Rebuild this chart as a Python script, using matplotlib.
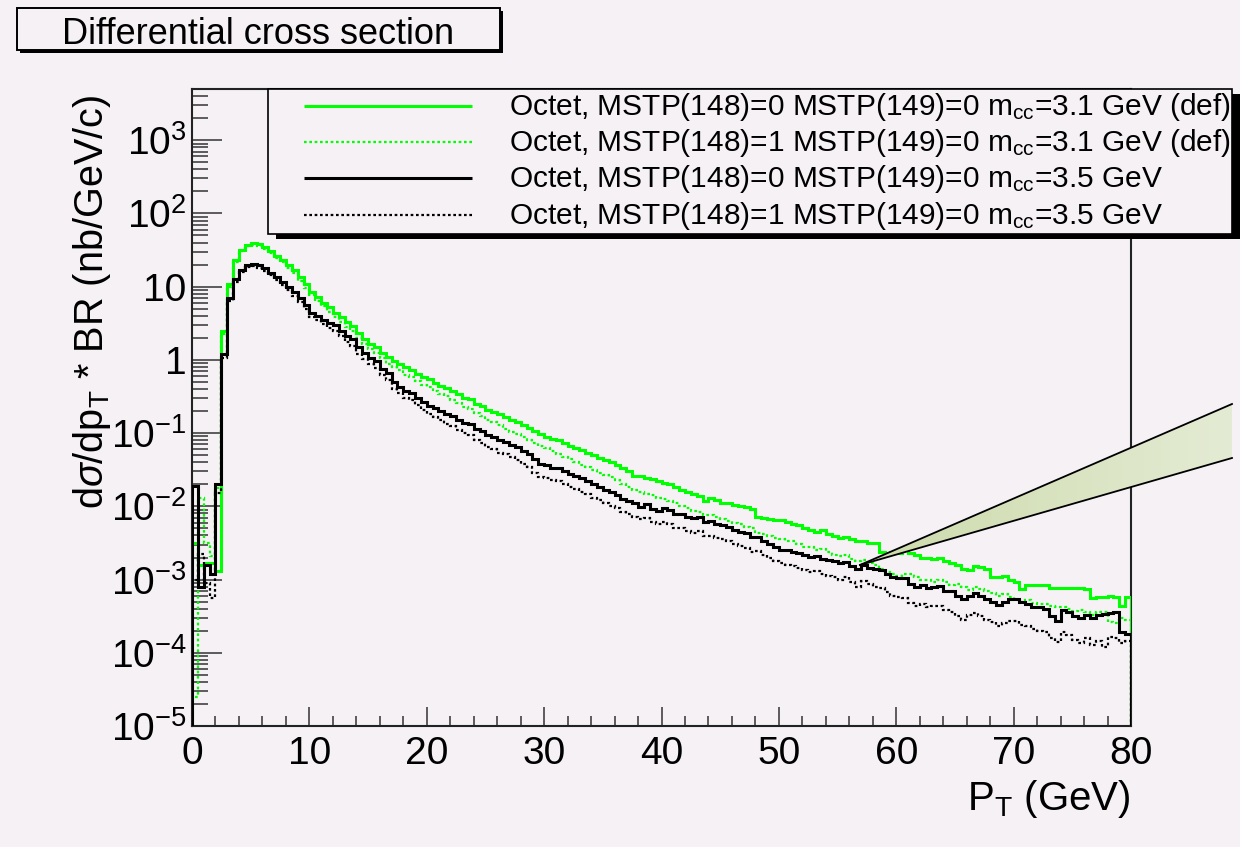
import numpy as np
import matplotlib
matplotlib.use("Agg")
import matplotlib.pyplot as plt
from matplotlib.patches import Rectangle, Polygon
from matplotlib.ticker import FixedLocator, FixedFormatter, LogLocator, MultipleLocator, NullFormatter

plt.rcParams['font.family'] = ['Liberation Sans', 'DejaVu Sans']
plt.rcParams['mathtext.fontset'] = 'custom'
plt.rcParams['mathtext.rm'] = 'Liberation Sans'
plt.rcParams['mathtext.it'] = 'Liberation Sans:italic'
plt.rcParams['mathtext.bf'] = 'Liberation Sans:bold'

# ---------------------------------------------------------------------------
# Histogram contents: log10(dsigma/dpT * BR) in nb/GeV/c, 0.5 GeV bins, 0-80 GeV
# ---------------------------------------------------------------------------
PT_MIN, PT_MAX = 0.0, 80.0

log_m31_148_0 = [
    -2.50, -2.80, -2.78, -2.78, -2.88, 0.40, 1.04, 1.37, 1.50, 1.57,
    1.59, 1.58, 1.54, 1.49, 1.42, 1.37, 1.30, 1.23, 1.13, 1.03,
    0.93, 0.86, 0.78, 0.72, 0.64, 0.58, 0.52, 0.46, 0.37, 0.28,
    0.22, 0.17, 0.10, 0.04, -0.02, -0.06, -0.10, -0.14, -0.19, -0.23,
    -0.26, -0.31, -0.36, -0.39, -0.43, -0.47, -0.52, -0.54, -0.60, -0.63,
    -0.68, -0.71, -0.74, -0.78, -0.82, -0.85, -0.89, -0.93, -0.97, -1.01,
    -1.05, -1.08, -1.10, -1.14, -1.18, -1.21, -1.23, -1.27, -1.30, -1.34,
    -1.37, -1.40, -1.44, -1.48, -1.52, -1.59, -1.59, -1.62, -1.63, -1.66,
    -1.68, -1.70, -1.74, -1.78, -1.80, -1.83, -1.86, -1.93, -1.88, -1.91,
    -1.96, -1.96, -1.98, -2.00, -2.01, -2.03, -2.15, -2.16, -2.18, -2.19,
    -2.19, -2.22, -2.24, -2.26, -2.30, -2.33, -2.35, -2.33, -2.38, -2.40,
    -2.43, -2.42, -2.44, -2.48, -2.47, -2.50, -2.50, -2.63, -2.64, -2.62,
    -2.64, -2.60, -2.64, -2.66, -2.70, -2.71, -2.72, -2.70, -2.75, -2.78,
    -2.80, -2.85, -2.87, -2.82, -2.83, -2.86, -2.97, -2.97, -2.95, -3.00,
    -3.03, -3.13, -3.08, -3.07, -3.08, -3.08, -3.11, -3.11, -3.12, -3.12,
    -3.12, -3.12, -3.13, -3.25, -3.24, -3.24, -3.23, -3.24, -3.36, -3.24,
]

log_m31_148_1 = [
    -4.60, -1.88, -2.50, -2.68, -1.75, 0.36, 1.00, 1.34, 1.48, 1.55,
    1.57, 1.56, 1.51, 1.46, 1.39, 1.33, 1.26, 1.18, 1.08, 0.98,
    0.88, 0.80, 0.73, 0.66, 0.58, 0.52, 0.45, 0.39, 0.30, 0.21,
    0.15, 0.09, 0.02, -0.05, -0.10, -0.14, -0.20, -0.24, -0.29, -0.34,
    -0.37, -0.42, -0.47, -0.50, -0.55, -0.59, -0.65, -0.67, -0.73, -0.77,
    -0.82, -0.85, -0.89, -0.94, -0.98, -1.01, -1.06, -1.10, -1.14, -1.18,
    -1.21, -1.25, -1.28, -1.33, -1.36, -1.40, -1.43, -1.46, -1.50, -1.54,
    -1.57, -1.60, -1.64, -1.70, -1.73, -1.78, -1.80, -1.83, -1.85, -1.88,
    -1.90, -1.93, -1.96, -2.00, -2.02, -2.06, -2.08, -2.12, -2.12, -2.15,
    -2.18, -2.20, -2.23, -2.24, -2.28, -2.30, -2.36, -2.38, -2.40, -2.43,
    -2.44, -2.47, -2.48, -2.52, -2.55, -2.56, -2.60, -2.58, -2.63, -2.66,
    -2.68, -2.67, -2.72, -2.74, -2.73, -2.77, -2.80, -2.86, -2.90, -2.93,
    -2.95, -2.93, -2.92, -2.97, -3.00, -3.01, -3.03, -3.00, -3.04, -3.07,
    -3.06, -3.10, -3.14, -3.10, -3.13, -3.16, -3.18, -3.22, -3.20, -3.24,
    -3.28, -3.30, -3.28, -3.32, -3.34, -3.33, -3.36, -3.38, -3.37, -3.40,
    -3.43, -3.42, -3.45, -3.48, -3.44, -3.45, -3.58, -3.60, -3.52, -3.55,
]

log_m35_148_0 = [
    -1.72, -3.10, -2.80, -2.92, -1.70, 0.08, 0.85, 1.11, 1.23, 1.30,
    1.31, 1.29, 1.25, 1.19, 1.13, 1.06, 0.99, 0.92, 0.84, 0.75,
    0.64, 0.60, 0.55, 0.50, 0.47, 0.40, 0.33, 0.28, 0.17, 0.10,
    0.03, -0.02, -0.12, -0.18, -0.30, -0.37, -0.43, -0.45, -0.52, -0.57,
    -0.63, -0.66, -0.70, -0.74, -0.77, -0.82, -0.86, -0.88, -0.94, -0.97,
    -1.03, -1.06, -1.10, -1.12, -1.16, -1.19, -1.24, -1.28, -1.36, -1.42,
    -1.44, -1.47, -1.48, -1.52, -1.56, -1.59, -1.62, -1.65, -1.70, -1.73,
    -1.78, -1.81, -1.84, -1.90, -1.93, -1.95, -2.01, -1.97, -2.03, -2.06,
    -2.02, -2.05, -2.10, -2.10, -2.15, -2.16, -2.15, -2.21, -2.20, -2.24,
    -2.26, -2.28, -2.32, -2.35, -2.37, -2.42, -2.42, -2.48, -2.52, -2.55,
    -2.60, -2.60, -2.63, -2.64, -2.67, -2.69, -2.68, -2.72, -2.73, -2.74,
    -2.78, -2.76, -2.81, -2.86, -2.80, -2.84, -2.86, -2.87, -2.92, -2.96,
    -2.98, -2.98, -3.06, -3.10, -3.08, -3.12, -3.10, -3.09, -3.15, -3.16,
    -3.23, -3.27, -3.22, -3.18, -3.22, -3.26, -3.30, -3.35, -3.30, -3.26,
    -3.26, -3.31, -3.33, -3.37, -3.38, -3.40, -3.50, -3.56, -3.42, -3.45,
    -3.50, -3.52, -3.48, -3.53, -3.49, -3.47, -3.46, -3.45, -3.72, -3.74,
]

log_m35_148_1 = [
    -3.00, -2.65, -3.05, -3.25, -1.82, 0.02, 0.80, 1.07, 1.20, 1.27,
    1.28, 1.26, 1.22, 1.16, 1.09, 1.02, 0.95, 0.87, 0.79, 0.70,
    0.59, 0.54, 0.49, 0.43, 0.39, 0.32, 0.25, 0.19, 0.08, 0.01,
    -0.06, -0.11, -0.21, -0.28, -0.40, -0.45, -0.52, -0.55, -0.62, -0.68,
    -0.74, -0.78, -0.82, -0.87, -0.90, -0.96, -1.00, -1.03, -1.09, -1.13,
    -1.19, -1.22, -1.27, -1.29, -1.33, -1.37, -1.42, -1.46, -1.54, -1.60,
    -1.62, -1.64, -1.66, -1.70, -1.74, -1.77, -1.80, -1.83, -1.88, -1.91,
    -1.96, -1.99, -2.02, -2.08, -2.11, -2.14, -2.18, -2.16, -2.22, -2.24,
    -2.21, -2.24, -2.29, -2.29, -2.34, -2.36, -2.34, -2.40, -2.40, -2.43,
    -2.45, -2.48, -2.52, -2.54, -2.57, -2.62, -2.61, -2.67, -2.71, -2.74,
    -2.78, -2.80, -2.81, -2.84, -2.87, -2.90, -2.88, -2.93, -2.95, -2.96,
    -3.00, -2.97, -3.03, -3.10, -3.02, -3.06, -3.10, -3.11, -3.17, -3.22,
    -3.24, -3.25, -3.32, -3.36, -3.33, -3.38, -3.36, -3.36, -3.42, -3.44,
    -3.50, -3.55, -3.48, -3.46, -3.50, -3.55, -3.58, -3.64, -3.60, -3.56,
    -3.56, -3.62, -3.64, -3.68, -3.70, -3.72, -3.80, -3.85, -3.72, -3.76,
    -3.82, -3.86, -3.80, -3.90, -3.84, -3.92, -3.78, -3.80, -3.86, -3.84,
]

series_labels = [
    r"Octet, MSTP(148)=0 MSTP(149)=0 m$_{\mathrm{cc}}$=3.1 GeV (def)",
    r"Octet, MSTP(148)=1 MSTP(149)=0 m$_{\mathrm{cc}}$=3.1 GeV (def)",
    r"Octet, MSTP(148)=0 MSTP(149)=0 m$_{\mathrm{cc}}$=3.5 GeV",
    r"Octet, MSTP(148)=1 MSTP(149)=0 m$_{\mathrm{cc}}$=3.5 GeV",
]
series_data = [log_m31_148_0, log_m31_148_1, log_m35_148_0, log_m35_148_1]

x_ticks = [0, 10, 20, 30, 40, 50, 60, 70, 80]
y_ticks = [1e-5, 1e-4, 1e-3, 1e-2, 1e-1, 1, 10, 1e2, 1e3]
y_tick_labels = [r"$10^{-5}$", r"$10^{-4}$", r"$10^{-3}$", r"$10^{-2}$", r"$10^{-1}$",
                 "1", "10", r"$10^{2}$", r"$10^{3}$"]
Y_MIN, Y_MAX = 1e-5, 5.0e3

# ---------------------------------------------------------------------------
# Styling
# ---------------------------------------------------------------------------
BG = "#f5f1f5"
GREEN = "#00ff00"
W, H = 1240, 847
styles = [
    dict(color=GREEN, lw=2.2, ls="-"),
    dict(color=GREEN, lw=1.6, ls=(0, (1.2, 1.2))),
    dict(color="black", lw=2.2, ls="-"),
    dict(color="black", lw=1.6, ls=(0, (1.2, 1.2))),
]

fig = plt.figure(figsize=(W / 100, H / 100), dpi=100, facecolor=BG)

ax_l, ax_r, ax_t, ax_b = 192, 1131, 89, 726
ax = fig.add_axes([ax_l / W, 1 - ax_b / H, (ax_r - ax_l) / W, (ax_b - ax_t) / H])
ax.set_facecolor(BG)

for logs, st in zip(series_data, styles):
    vals = np.power(10.0, np.asarray(logs))
    edges = np.linspace(PT_MIN, PT_MAX, len(vals) + 1)
    ax.stairs(vals, edges, baseline=Y_MIN, color=st["color"], linewidth=st["lw"],
              linestyle=st["ls"], zorder=3)

ax.set_yscale("log")
ax.set_xlim(PT_MIN, PT_MAX)
ax.set_ylim(Y_MIN, Y_MAX)

ax.xaxis.set_major_locator(FixedLocator(x_ticks))
ax.xaxis.set_minor_locator(MultipleLocator(2))
ax.set_xticklabels([str(v) for v in x_ticks])
ax.yaxis.set_major_locator(FixedLocator(y_ticks))
ax.yaxis.set_major_formatter(FixedFormatter(y_tick_labels))
ax.yaxis.set_minor_locator(LogLocator(base=10, subs=np.arange(2, 10), numticks=50))
ax.yaxis.set_minor_formatter(NullFormatter())

ax.tick_params(axis="both", which="both", direction="in", color="#333333", width=1.1,
               labelsize=28, labelcolor="black")
ax.tick_params(axis="x", which="major", length=13.5, pad=7)
ax.tick_params(axis="x", which="minor", length=7)
ax.tick_params(axis="y", which="major", length=21.5, pad=4)
ax.tick_params(axis="y", which="minor", length=11.5)
for sp in ax.spines.values():
    sp.set_linewidth(1.5)
    sp.set_color("#222222")

# Overlay in pixel coordinates for the title box, legend and zoom wedge
ov = fig.add_axes([0, 0, 1, 1])
ov.set_xlim(0, W)
ov.set_ylim(H, 0)
ov.axis("off")
ov.patch.set_visible(False)

# axis titles
fig.text(ax_r / W, 1 - 810 / H, r"P$_{\mathrm{T}}$ (GeV)", ha="right", va="baseline", fontsize=29)
fig.text(92 / W, 1 - 95 / H, r"d$\sigma$/dp$_{\mathrm{T}}$ * BR (nb/GeV/c)", ha="center", va="top",
         rotation=90, fontsize=28.5)

# title box
ov.add_patch(Rectangle((20, 11), 483, 42, facecolor="black", edgecolor="none", zorder=1))
ov.add_patch(Rectangle((17, 8), 483, 42, facecolor=BG, edgecolor="black", lw=1.4, zorder=2))
ov.text(258, 44, "Differential cross section", ha="center", va="baseline", fontsize=26, zorder=3)

# legend box
lg_l, lg_t, lg_r, lg_b = 268, 89, 1232, 234
ov.add_patch(Rectangle((lg_l + 8, lg_t + 5), lg_r - lg_l, lg_b - lg_t, facecolor="black",
                       edgecolor="none", zorder=4))
ov.add_patch(Rectangle((lg_l, lg_t), lg_r - lg_l, lg_b - lg_t, facecolor=BG, edgecolor="black",
                       lw=1.2, zorder=5))
entry_y = [106, 142, 178, 215]
for yy, st, lab in zip(entry_y, styles, series_labels):
    ov.plot([304, 472], [yy, yy], color=st["color"], linewidth=st["lw"], linestyle=st["ls"],
            zorder=6, solid_capstyle="butt")
    ov.text(509, yy + 9, lab, ha="left", va="baseline", fontsize=21.5, zorder=6)

# zoom wedge pointing at the curves near 57 GeV
wedge_pts = [(860, 565), (1232, 404), (1232, 458)]
wedge = Polygon(wedge_pts, closed=True, facecolor="none", edgecolor="none", zorder=7)
ov.add_patch(wedge)
c0 = np.array([0xcc, 0xda, 0xaa]) / 255.0
c1 = np.array([0xe4, 0xeb, 0xd4]) / 255.0
t = np.linspace(0, 1, 256)[None, :, None]
grad = c0[None, None, :] * (1 - t) + c1[None, None, :] * t
img = ov.imshow(grad, extent=(860, 1232, 570, 400), aspect="auto", zorder=7, interpolation="bilinear")
img.set_clip_path(wedge)
ov.plot([860, 1232], [565, 404], color="black", lw=1.3, zorder=8)
ov.plot([860, 1232], [565, 458], color="black", lw=1.3, zorder=8)
ov.set_xlim(0, W)
ov.set_ylim(H, 0)

fig.savefig("out.png", dpi=100, facecolor=BG)
